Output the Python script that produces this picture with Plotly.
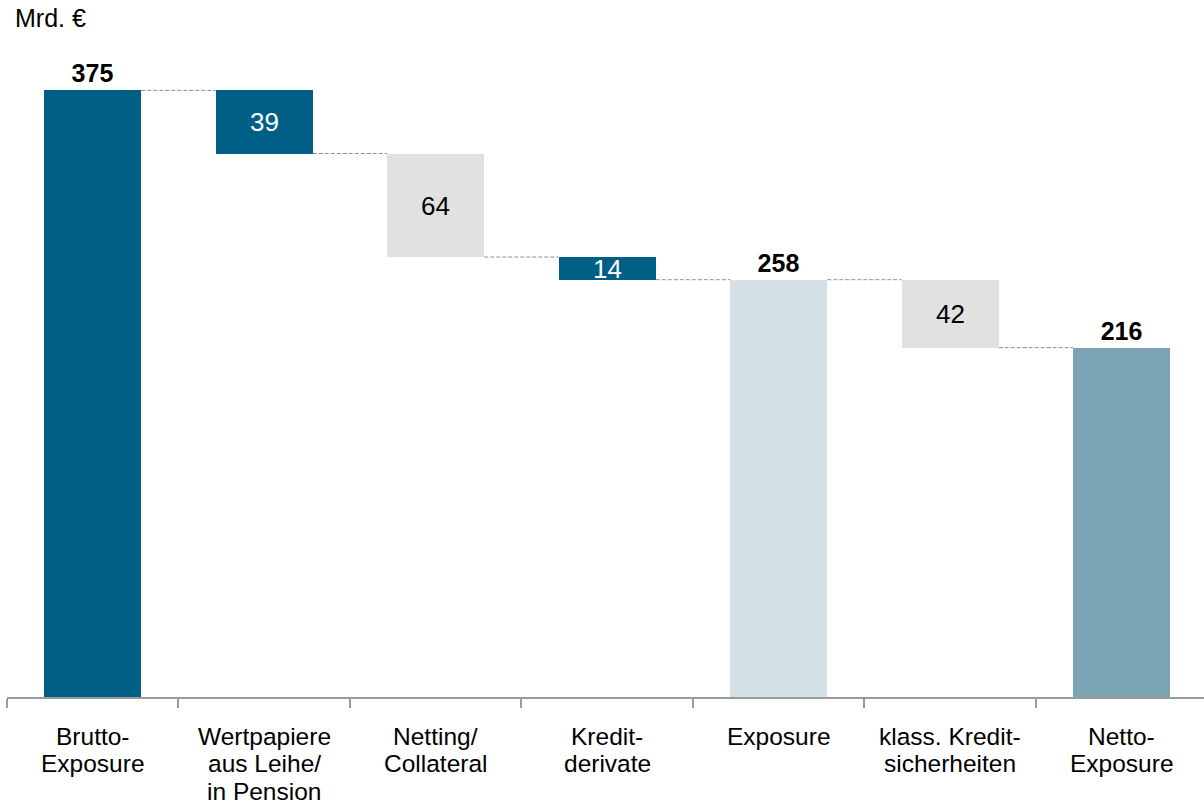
import plotly.graph_objects as go

categories = ["Brutto-<br>Exposure", "Wertpapiere<br>aus Leihe/<br>in Pension", "Netting/<br>Collateral",
              "Kredit-<br>derivate", "Exposure", "klass. Kredit-<br>sicherheiten", "Netto-<br>Exposure"]
values = [375, -39, -64, -14, 258, -42, 216]
kinds = ["total", "delta", "delta", "delta", "total", "delta", "total"]
bar_colors = ["#005f87", "#005f87", "#e1e1e1", "#005f87", "#d3e0e6", "#e1e1e1", "#7aa4b4"]
text_colors = ["#000000", "#ffffff", "#000000", "#ffffff", "#000000", "#000000", "#000000"]
unit_label = "Mrd. €"

FONT = "Liberation Sans, Arial, sans-serif"

bases, heights, texts, positions = [], [], [], []
level = 0
levels_after = []
for v, k in zip(values, kinds):
    if k == "total":
        bases.append(0)
        heights.append(v)
        level = v
        texts.append(f"<b>{v}</b>")
        positions.append("outside")
    else:
        bases.append(level + v)
        heights.append(-v)
        level = level + v
        texts.append(str(-v))
        positions.append("inside")
    levels_after.append(level)

BW = 0.566
fig = go.Figure()
fig.add_trace(go.Bar(
    x=categories, y=heights, base=bases, width=BW,
    marker=dict(color=bar_colors, line=dict(width=0)),
    text=texts, textposition=positions, insidetextanchor="middle", textangle=0,
    textfont=dict(color=text_colors, size=26, family=FONT),
    outsidetextfont=dict(color="#000000", size=25, family=FONT),
    constraintext="none", cliponaxis=False, hoverinfo="skip",
))

for i in range(len(values) - 1):
    fig.add_shape(type="line", xref="x", yref="y",
                  x0=i + BW / 2, x1=i + 1 - BW / 2,
                  y0=levels_after[i], y1=levels_after[i],
                  line=dict(color="#8f8f8f", width=1, dash="4px,2px"), layer="below")

# category labels with tight line spacing
PITCH = 27.5
for c in categories:
    for j, line in enumerate(c.split("<br>")):
        fig.add_annotation(text=line, xref="x", yref="paper", x=c, y=0,
                           xanchor="center", yanchor="middle", yshift=-39.0 - PITCH * j,
                           showarrow=False, font=dict(size=24.5, color="#000000", family=FONT))

fig.add_annotation(text=unit_label, xref="paper", yref="paper", x=0, y=1,
                   xanchor="left", yanchor="middle", xshift=6, yshift=32, showarrow=False,
                   font=dict(size=25, color="#000000", family=FONT))

fig.update_layout(
    width=1204, height=805,
    margin=dict(l=7, r=0, t=50, b=108, autoexpand=False),
    paper_bgcolor="white", plot_bgcolor="white",
    showlegend=False, bargap=0,
    font=dict(family=FONT, color="#000000"),
    xaxis=dict(type="category", showline=True, linecolor="#9a9a9a", linewidth=2,
               ticks="outside", tickson="boundaries", ticklen=9, tickcolor="#9a9a9a", tickwidth=2,
               showticklabels=False, automargin=False,
               showgrid=False, zeroline=False, range=[-0.5, 6.48]),
    yaxis=dict(range=[0, 400], visible=False, showgrid=False, zeroline=False, automargin=False),
)

fig.write_html("out.html", config={"displayModeBar": False},
               post_script="document.body.style.margin='0';")
